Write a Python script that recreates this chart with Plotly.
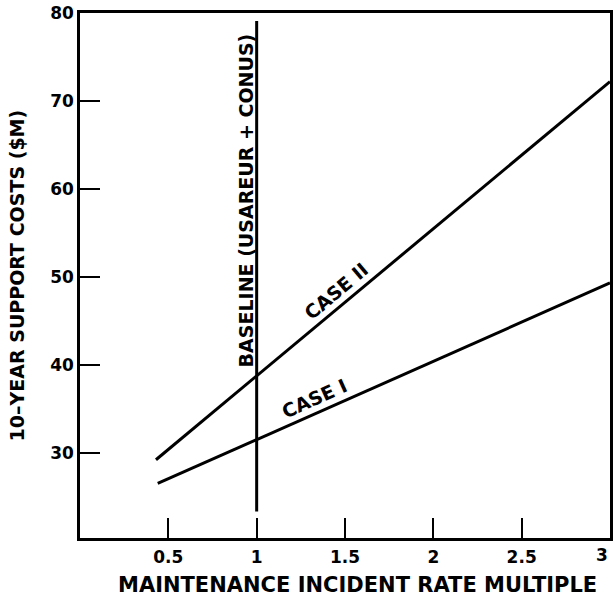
import plotly.graph_objects as go

# values
case1_x = [0.44, 3.0]
case1_y = [26.5, 49.3]
case2_x = [0.43, 3.0]
case2_y = [29.2, 72.2]
baseline_x = [1.0, 1.0]
baseline_y = [23.3, 79.1]

x_ticks = [0.5, 1, 1.5, 2, 2.5, 3]
x_labels = ["0.5", "1", "1.5", "2", "2.5", "3"]
y_ticks = [30, 40, 50, 60, 70, 80]

FONT = "DejaVu Sans"

fig = go.Figure()
for xs, ys in [(case2_x, case2_y), (case1_x, case1_y), (baseline_x, baseline_y)]:
    fig.add_trace(
        go.Scatter(
            x=xs,
            y=ys,
            mode="lines",
            line=dict(color="black", width=3),
            showlegend=False,
        )
    )

# line labels
fig.add_annotation(x=0.94, y=58.7, text="<b>BASELINE (USAREUR + CONUS)</b>",
                   textangle=-90, showarrow=False, font=dict(size=19))
fig.add_annotation(x=1.45, y=48.4, text="<b>CASE II</b>",
                   textangle=-40, showarrow=False, font=dict(size=19))
fig.add_annotation(x=1.33, y=36.2, text="<b>CASE I</b>",
                   textangle=-24, showarrow=False, font=dict(size=19))

# axis titles placed by hand, like the original drawing
fig.add_annotation(xref="paper", yref="paper", x=-0.119, y=0.50,
                   xanchor="center", yanchor="middle",
                   text="<b>10–YEAR SUPPORT COSTS ($M)</b>", textangle=-90,
                   showarrow=False, font=dict(size=19))
fig.add_annotation(xref="paper", yref="paper", x=0.523, y=-0.0895,
                   xanchor="center", yanchor="middle",
                   text="<b>MAINTENANCE INCIDENT RATE MULTIPLE</b>",
                   showarrow=False, font=dict(size=21))

# last x label sits against the page edge, so anchor it on its right side
fig.add_annotation(x=x_ticks[-1], xref="x", yref="paper", y=-0.032,
                   xanchor="right", yanchor="middle",
                   text="<b>%s</b>" % x_labels[-1], showarrow=False,
                   font=dict(size=17))

axis_style = dict(
    showline=True,
    linecolor="black",
    linewidth=2.5,
    mirror=True,
    showgrid=False,
    zeroline=False,
    ticks="inside",
    ticklen=20,
    tickwidth=2,
    tickcolor="black",
    tickfont=dict(size=17, color="black"),
    ticklabeloverflow="allow",
    automargin=False,
)

fig.update_layout(
    width=613,
    height=601,
    margin=dict(l=80, r=3, t=13, b=63),
    paper_bgcolor="white",
    plot_bgcolor="white",
    font=dict(family=FONT, color="black"),
    xaxis=dict(
        axis_style,
        range=[0, 3],
        tickvals=x_ticks,
        ticktext=["<b>%s</b>" % t for t in x_labels[:-1]] + [""],
        ticklabelstandoff=2,
    ),
    yaxis=dict(
        axis_style,
        range=[20.3, 80],
        tickvals=y_ticks,
        ticktext=["<b>%d</b>" % t for t in y_ticks],
    ),
)

# drop the page's default body margin so the figure fills the window
fig.write_html(
    "out.html",
    config={"displayModeBar": False},
    post_script="document.body.style.margin='0';document.body.style.overflow='hidden';",
)
